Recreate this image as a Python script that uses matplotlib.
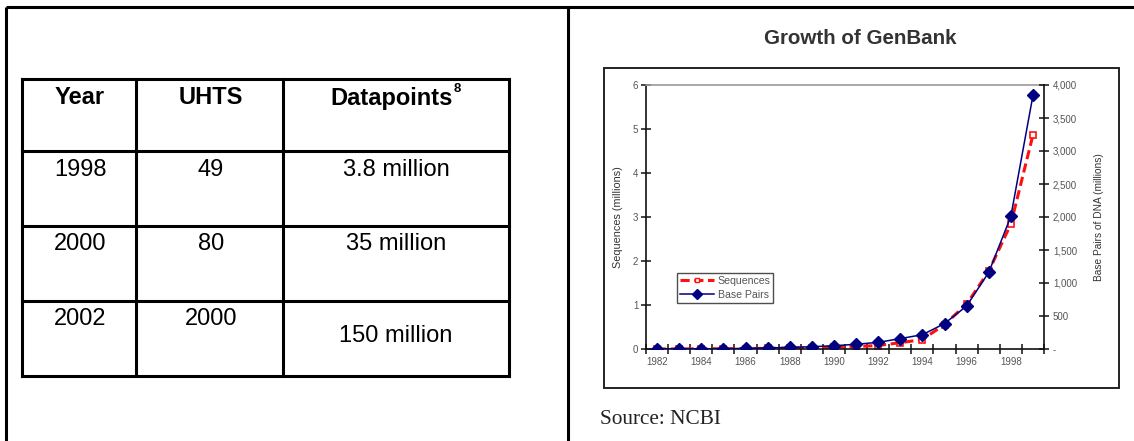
import matplotlib
matplotlib.use("Agg")
import matplotlib.pyplot as plt
from matplotlib.lines import Line2D
from matplotlib.patches import Rectangle

plt.rcParams["font.family"] = ["Liberation Sans", "DejaVu Sans"]

# table data
table_header = ["Year", "UHTS", "Datapoints"]
table_years = ["1998", "2000", "2002"]
table_uhts = ["49", "80", "2000"]
table_points = ["3.8 million", "35 million", "150 million"]

# GenBank growth
years = [1982, 1983, 1984, 1985, 1986, 1987, 1988, 1989, 1990,
         1991, 1992, 1993, 1994, 1995, 1996, 1997, 1998, 1999]
sequences_millions = [0.0006, 0.0024, 0.0042, 0.0057, 0.010, 0.015, 0.021, 0.029, 0.040,
                      0.056, 0.079, 0.143, 0.215, 0.556, 1.021, 1.766, 2.838, 4.865]
base_pairs_millions = [0.7, 2.3, 3.4, 5.2, 9.6, 15.5, 23.8, 34.8, 49.2,
                       71.9, 101.0, 157.2, 217.1, 384.9, 652.0, 1160.3, 2008.8, 3841.2]
left_ticks = [0, 1, 2, 3, 4, 5, 6]
right_ticks = [0, 500, 1000, 1500, 2000, 2500, 3000, 3500, 4000]
right_labels = ["-", "500", "1,000", "1,500", "2,000", "2,500", "3,000", "3,500", "4,000"]
label_years = [1982, 1984, 1986, 1988, 1990, 1992, 1994, 1996, 1998]

W, H = 1134, 441
fig = plt.figure(figsize=(W / 100, H / 100), dpi=100)

# page layer in pixel coordinates
page = fig.add_axes([0, 0, 1, 1])
page.set_xlim(0, W)
page.set_ylim(H, 0)
page.axis("off")

lw = 2.2
page.plot([6, W], [7, 7], color="black", lw=lw, solid_capstyle="butt")
page.plot([6, 6], [7, H], color="black", lw=lw, solid_capstyle="butt")
page.plot([568, 568], [7, H], color="black", lw=lw, solid_capstyle="butt")

# inner table grid
col_x = [22, 136, 283, 509]
row_y = [79, 151, 226, 301, 376]
for x in col_x:
    page.plot([x, x], [row_y[0], row_y[-1]], color="black", lw=lw, solid_capstyle="projecting")
for y in row_y:
    page.plot([col_x[0], col_x[-1]], [y, y], color="black", lw=lw, solid_capstyle="projecting")

header_x = [80, 211, 392]
for x, txt in zip(header_x, table_header):
    page.text(x, 98, txt, ha="center", va="center", fontsize=17, fontweight="bold")
page.text(454, 89, "8", ha="left", va="center", fontsize=9.5, fontweight="bold")

row_text_y = [170, 244, 319]
for y, a, b, c in zip(row_text_y, table_years, table_uhts, table_points):
    page.text(80, y, a, ha="center", va="center", fontsize=17)
    page.text(211, y, b, ha="center", va="center", fontsize=17)
    cy = y + 17 if c == table_points[-1] else y
    page.text(396, cy, c, ha="center", va="center", fontsize=17)

# chart picture frame
page.add_patch(Rectangle((604, 68), 1119 - 604, 388 - 68, fill=False,
                         edgecolor="#222222", lw=1.4))
page.text(860, 39, "Growth of GenBank", ha="center", va="center",
          fontsize=14.8, fontweight="bold", color="#333333")
page.text(600, 420, "Source: NCBI", ha="left", va="center", fontsize=15.3,
          family=["Liberation Serif", "DejaVu Serif"], color="#222222")

# plot area
left, right, top, bottom = 646, 1044, 85, 349
ax = fig.add_axes([left / W, 1 - bottom / H, (right - left) / W, (bottom - top) / H])
ax.patch.set_alpha(0)
ax.plot(years, sequences_millions, color="#ff1010", lw=2.2, ls=(0, (3, 1.5)),
        marker="s", markersize=3.8, markerfacecolor="white", markeredgecolor="#ff1010",
        markeredgewidth=1.2, label="Sequences")
ax.set_xlim(1981.5, 1999.5)
ax.set_ylim(0, 6)
ax.set_yticks(left_ticks)
ax.set_xticks([y - 0.5 for y in years] + [1999.5])
ax.set_xticklabels([])
ax.set_xticks(label_years, minor=True)
ax.set_xticklabels([str(y) for y in label_years], minor=True)
ax.tick_params(axis="x", which="major", direction="inout", length=7, width=1.1, color="#111111")
ax.tick_params(axis="x", which="minor", length=0, pad=6, labelsize=7, labelcolor="#555555")
ax.tick_params(axis="y", direction="inout", length=7, width=1.1, color="#111111",
               labelsize=7, labelcolor="#555555", pad=2)
for side in ("left", "bottom"):
    ax.spines[side].set_color("#111111")
    ax.spines[side].set_linewidth(1.2)
ax.spines["top"].set_color("#999999")
ax.spines["top"].set_linewidth(1.2)
ax.spines["right"].set_visible(False)
ax.set_ylabel("Sequences (millions)", fontsize=7.8, color="#333333", labelpad=7)

ax2 = ax.twinx()
ax2.plot(years, base_pairs_millions, color="#000080", lw=1.1, marker="D",
         markersize=6, markerfacecolor="#000080", markeredgecolor="#000080",
         label="Base Pairs")
ax2.set_ylim(0, 4000)
ax2.set_yticks(right_ticks)
ax2.set_yticklabels(right_labels)
ax2.tick_params(axis="y", direction="inout", length=7, width=1.1, color="#111111",
                labelsize=7, labelcolor="#555555", pad=3)
ax2.spines["right"].set_color("#111111")
ax2.spines["right"].set_linewidth(1.2)
for side in ("left", "top", "bottom"):
    ax2.spines[side].set_visible(False)
ax2.set_ylabel("Base Pairs of DNA (millions)", fontsize=7.3, color="#333333",
               rotation=90, labelpad=12)

handles = [
    Line2D([], [], color="#ff1010", lw=2.2, ls=(0, (3, 1.5)), marker="s", markersize=3.5,
           markerfacecolor="white", markeredgecolor="#ff1010"),
    Line2D([], [], color="#000080", lw=1.1, marker="D", markersize=5),
]
leg = ax2.legend(handles, ["Sequences", "Base Pairs"], loc="upper left",
                 bbox_to_anchor=((677 - left) / (right - left), (bottom - 273) / (bottom - top)),
                 fontsize=7.6, frameon=True, fancybox=False, handlelength=3.3,
                 handletextpad=0.3, borderpad=0.25, labelspacing=0.4, borderaxespad=0)
leg.get_frame().set_edgecolor("#222222")
leg.get_frame().set_linewidth(1.0)
for t in leg.get_texts():
    t.set_color("#555555")

fig.savefig("out.png", dpi=100)
